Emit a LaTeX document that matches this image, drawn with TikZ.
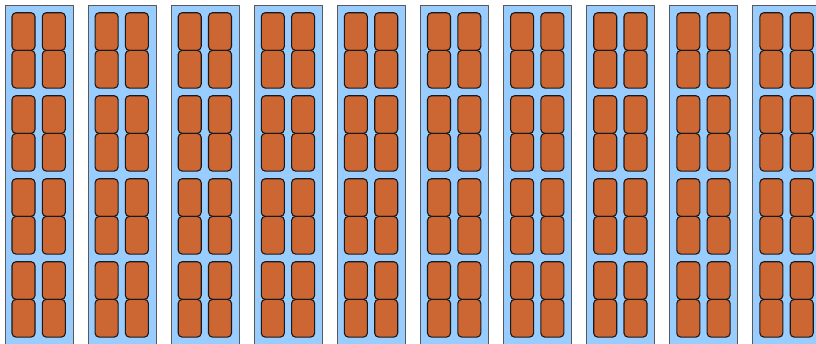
\documentclass[tikz,border=0pt]{standalone}
\usetikzlibrary{positioning,calc}
\definecolor{rackblue}{HTML}{99CCFF}
\definecolor{cellorange}{HTML}{CC6633}
\begin{document}
\begin{tikzpicture}[x=1pt,y=-1pt,line join=round,
    rack/.style={draw=black!65,fill=rackblue,line width=1pt,
      minimum width=68pt,minimum height=345pt,inner sep=0pt,outer sep=0pt,anchor=north west},
    cell/.style={draw=black!90,fill=cellorange,line width=1.1pt,rounded corners=4pt,
      minimum width=23pt,minimum height=37.7pt,inner sep=0pt,outer sep=0pt,anchor=north west}]
  \clip (0,0) rectangle (816,343);
  \foreach \i in {0,...,9}{
    \node[rack] (rack\i) at (5+83.1*\i,5) {};
    \foreach \p in {0,...,3}{
      \foreach \k in {0,1}{
        \node[cell] (cell\i-\p-\k-l) at ($(rack\i.north west)+(7,7.7+83*\p+37.7*\k)$) {};
        \node[cell] (cell\i-\p-\k-r) at ($(rack\i.north west)+(37.3,7.7+83*\p+37.7*\k)$) {};
      }
    }
  }
\end{tikzpicture}
\end{document}
